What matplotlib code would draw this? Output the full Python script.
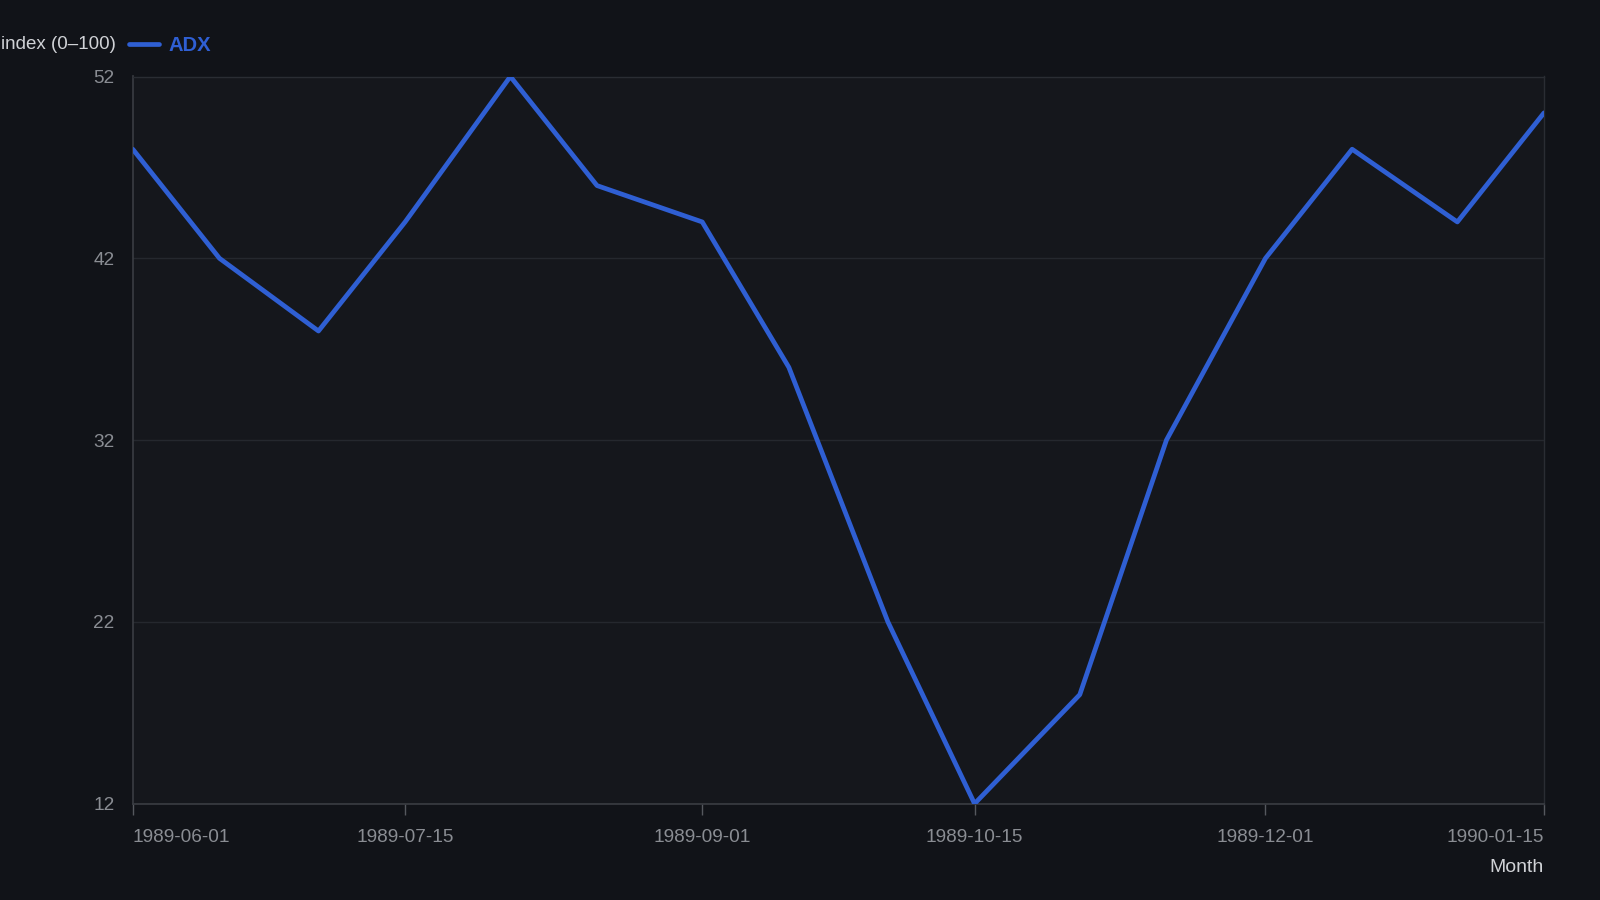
import matplotlib
matplotlib.use("Agg")
import matplotlib.pyplot as plt
import pandas as pd

dates = ["1989-06-01", "1989-06-15", "1989-07-01", "1989-07-15", "1989-08-01", "1989-08-15",
         "1989-09-01", "1989-09-15", "1989-10-01", "1989-10-15", "1989-11-01", "1989-11-15",
         "1989-12-01", "1989-12-15", "1990-01-01", "1990-01-15"]
adx = [48, 42, 38, 44, 52, 46, 44, 36, 22, 12, 18, 32, 42, 48, 44, 50]
xticks = ["1989-06-01", "1989-07-15", "1989-09-01", "1989-10-15", "1989-12-01", "1990-01-15"]
yticks = [12, 22, 32, 42, 52]

x = pd.to_datetime(dates)
xt = pd.to_datetime(xticks)

plt.rcParams['font.family'] = ['Liberation Sans', 'DejaVu Sans']
BG = "#111318"
PLOT_BG = "#15171c"
LINE = "#2f5fd3"
TICK = "#8a8d93"
GRID = "#25282e"

fig = plt.figure(figsize=(16, 9), dpi=100, facecolor=BG)
ax = fig.add_axes([0.083, 0.107, 0.882, 0.808])
ax.set_facecolor(PLOT_BG)

ax.plot(x, adx, color=LINE, lw=3.4, solid_joinstyle='round', solid_capstyle='round',
        label="ADX", zorder=3)

ax.set_xlim(x[0], x[-1])
ax.set_ylim(12, 52)
ax.set_yticks(yticks)
ax.set_xticks(xt)
ax.set_xticklabels(xticks)
ax.grid(axis='y', color=GRID, lw=1)
ax.tick_params(axis='y', length=0, pad=13, labelsize=13.7, labelcolor=TICK)
ax.tick_params(axis='x', length=8, width=1, color="#55585e", pad=10, labelsize=13.7, labelcolor=TICK)
labels = ax.get_xticklabels()
labels[0].set_ha('left')
labels[-1].set_ha('right')

for s in ['left', 'bottom']:
    ax.spines[s].set_color("#3a3d43")
    ax.spines[s].set_linewidth(1.2)
for s in ['top', 'right']:
    ax.spines[s].set_color("#2a2d33")
    ax.spines[s].set_linewidth(1)

fig.text(0.0722, 0.951, "index (0–100)", ha='right', va='center', fontsize=13.5, color="#d0d2d6")
fig.text(0.965, 0.036, "Month", ha='right', va='center', fontsize=14, color="#d0d2d6")

h, l = ax.get_legend_handles_labels()
leg = fig.legend(h, l, loc='center left', bbox_to_anchor=(0.0805, 0.949), frameon=False,
                 handlelength=1.5, handletextpad=0.45, borderaxespad=0, borderpad=0,
                 prop={'size': 14.5, 'weight': 'bold'})
for t in leg.get_texts():
    t.set_color(LINE)

fig.savefig("out.png", dpi=100, facecolor=BG)
